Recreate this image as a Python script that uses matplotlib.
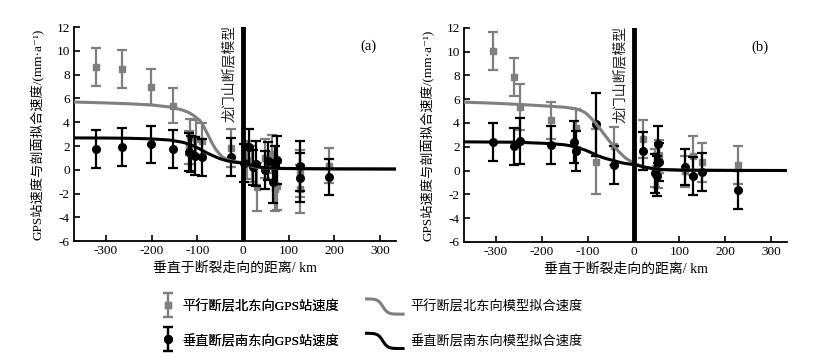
import matplotlib
matplotlib.use('Agg')
import matplotlib.pyplot as plt
import numpy as np
from matplotlib.legend_handler import HandlerBase, HandlerErrorbar
from matplotlib.lines import Line2D

plt.rcParams['font.family'] = ['Liberation Serif', 'Noto Sans CJK SC', 'DejaVu Serif']
plt.rcParams['axes.unicode_minus'] = False

# ---- panel (a) GPS stations ----
a_gray_x = [-321, -265, -202, -153, -118, -116, -103, -89, -25, 10, 20, 30, 49, 64, 71, 75, 124, 124, 189]
a_gray_y = [8.65, 8.5, 6.95, 5.4, 1.9, 2.75, 2.6, 2.45, 1.8, 0.8, 0.5, -1.45, 0.95, 1.35, -1.6, -1.4, -0.3, -1.6, 0.35]
a_gray_e = [1.6, 1.6, 1.5, 1.5, 1.4, 1.5, 1.6, 1.5, 1.6, 1.6, 1.5, 2.0, 1.6, 1.6, 1.9, 2.0, 2.0, 2.0, 1.45]

a_black_x = [-321, -265, -202, -153, -118, -114, -104, -90, -27, 3, 13, 22, 28, 48, 55, 66, 70, 75, 124, 124, 189]
a_black_y = [1.75, 1.9, 2.15, 1.75, 1.5, 1.35, 1.15, 1.05, 1.1, 0.55, 1.9, 0.2, 0.5, 0.0, 0.7, -1.0, 0.4, 0.8, 0.3, -0.65, -0.6]
a_black_e = [1.6, 1.6, 1.55, 1.6, 1.6, 1.5, 1.6, 1.55, 1.6, 1.6, 1.55, 1.5, 1.9, 1.6, 1.6, 1.8, 1.6, 2.0, 2.1, 2.1, 1.5]

# ---- panel (a) model fits ----
a_fitg_x = [-370, -300, -250, -200, -160, -135, -121, -110, -103, -95, -89, -84, -78, -72, -67, -60,
            -52, -44, -34, -25, -12, 0, 10, 20, 30, 40, 60, 90, 150, 200, 335]
a_fitg_y = [5.7, 5.62, 5.55, 5.45, 5.28, 5.05, 4.86, 4.62, 4.42, 4.15, 3.88, 3.5, 3.04, 2.6, 2.2, 1.75,
            1.36, 1.05, 0.86, 0.75, 0.66, 0.58, 0.43, 0.3, 0.22, 0.17, 0.12, 0.1, 0.08, 0.07, 0.05]
a_fitk_x = [-370, -300, -250, -200, -160, -130, -110, -92, -78, -63, -50, -34, -20, -10, 0,
            12, 24, 38, 53, 80, 126, 200, 335]
a_fitk_y = [2.68, 2.67, 2.65, 2.6, 2.5, 2.3, 2.05, 1.7, 1.4, 1.14, 0.93, 0.75, 0.65, 0.6, 0.57,
            0.45, 0.33, 0.22, 0.16, 0.12, 0.1, 0.08, 0.07]

# ---- panel (b) GPS stations ----
b_gray_x = [-307, -261, -247, -181, -125, -81, -42, 20, 47, 54, 56, 113, 129, 150, 228]
b_gray_y = [10.05, 7.88, 5.35, 4.23, 3.6, 0.75, 2.05, 2.66, 0.22, 0.0, 1.2, -0.05, 1.26, 0.7, 0.45]
b_gray_e = [1.6, 1.6, 1.95, 1.55, 1.6, 2.7, 1.6, 1.6, 1.6, 1.5, 1.4, 1.3, 1.6, 1.65, 1.6]

b_black_x = [-307, -261, -247, -181, -129, -125, -81, -42, 20, 46, 52, 54, 56, 113, 129, 150, 228]
b_black_y = [2.38, 2.05, 2.5, 2.13, 2.41, 1.63, 3.87, 0.5, 1.65, -0.25, -0.48, 2.2, 0.7, 0.28, -0.48, -0.1, -1.65]
b_black_e = [1.6, 1.55, 1.95, 1.6, 1.75, 1.7, 2.65, 1.6, 1.6, 1.6, 1.7, 1.55, 1.6, 1.5, 1.6, 1.6, 1.6]

# ---- panel (b) model fits ----
b_fitg_x = [-370, -300, -247, -184, -150, -127, -115, -105, -95, -83, -72, -61, -50, -40, -30,
            -18, -8, 0, 10, 18, 30, 47, 70, 105, 200, 335]
b_fitg_y = [5.75, 5.65, 5.55, 5.41, 5.32, 5.2, 5.05, 4.85, 4.5, 4.0, 3.45, 2.89, 2.35, 1.91, 1.5,
            1.07, 0.82, 0.64, 0.48, 0.36, 0.24, 0.14, 0.07, 0.03, 0.01, 0.0]
b_fitk_x = [-370, -300, -257, -184, -150, -134, -120, -105, -90, -76, -60, -47, -35, -25, -12,
            0, 12, 25, 40, 61, 105, 200, 335]
b_fitk_y = [2.41, 2.39, 2.38, 2.27, 2.16, 2.05, 1.9, 1.71, 1.46, 1.2, 1.0, 0.87, 0.74, 0.64, 0.56,
            0.5, 0.4, 0.28, 0.17, 0.08, 0.03, 0.01, 0.0]

GRAY = '#7f7f7f'
YLABEL = 'GPS站速度与剖面拟合速度/(mm·a⁻¹)'
XLABEL = '垂直于断裂走向的距离/ km'
FAULT = '龙门山断层模型'
LEG_POINTS = ['平行断层北东向GPS站速度', '垂直断层南东向GPS站速度']
LEG_LINES = ['平行断层北东向模型拟合速度', '垂直断层南东向模型拟合速度']


class SCurveHandler(HandlerBase):
    def create_artists(self, legend, orig_handle, xdescent, ydescent,
                       width, height, fontsize, trans):
        t = np.linspace(0, 1, 40)
        x = -xdescent + width * t
        y = -ydescent + height * (0.5 - 0.5 * np.tanh((t - 0.45) * 8))
        ln = Line2D(x, y, color=orig_handle.get_color(),
                    lw=orig_handle.get_linewidth(), solid_capstyle='butt')
        ln.set_transform(trans)
        return [ln]


def draw_panel(ax, gx, gy, ge, kx, ky, ke, fgx, fgy, fkx, fky, tag):
    eg = ax.errorbar(gx, gy, yerr=ge, fmt='s', color=GRAY, ms=5, elinewidth=1.6,
                     capsize=3.5, capthick=1.6, zorder=2)
    ek = ax.errorbar(kx, ky, yerr=ke, fmt='o', color='black', ms=5.5, elinewidth=1.6,
                     capsize=3.5, capthick=1.6, zorder=3)
    lg, = ax.plot(fgx, fgy, color=GRAY, lw=2.2, zorder=4)
    lk, = ax.plot(fkx, fky, color='black', lw=2.2, zorder=4)
    ax.axvline(0, color='black', lw=3.5, zorder=5)
    ax.text(-30, 12.2, FAULT, rotation=90, ha='center', va='top', fontsize=10,
            color='#222222')
    ax.text(275, 10.4, tag, ha='center', va='center', fontsize=10.5)
    ax.set_xlim(-370, 335)
    ax.set_ylim(-6, 12)
    ax.set_xticks(range(-300, 301, 100))
    ax.set_yticks(range(-6, 13, 2))
    ax.tick_params(direction='in', length=4, width=1.2, labelsize=9.5, pad=3)
    for s in ['top', 'right']:
        ax.spines[s].set_visible(False)
    for s in ['left', 'bottom']:
        ax.spines[s].set_linewidth(1.3)
    ax.set_xlabel(XLABEL, fontsize=10, labelpad=3)
    ax.set_ylabel(YLABEL, fontsize=9.5)
    ax.yaxis.set_label_coords(-0.09, 0.5)
    return eg, ek, lg, lk


fig = plt.figure(figsize=(8.36, 3.61), dpi=100)
ax_a = fig.add_axes([0.0885, 0.332, 0.385, 0.593])
ax_b = fig.add_axes([0.555, 0.330, 0.3865, 0.593])

eg, ek, lg, lk = draw_panel(ax_a, a_gray_x, a_gray_y, a_gray_e, a_black_x, a_black_y, a_black_e,
                            a_fitg_x, a_fitg_y, a_fitk_x, a_fitk_y, '(a)')
draw_panel(ax_b, b_gray_x, b_gray_y, b_gray_e, b_black_x, b_black_y, b_black_e,
           b_fitg_x, b_fitg_y, b_fitk_x, b_fitk_y, '(b)')

leg_kw = dict(loc='upper left', frameon=False, fontsize=9.5, handleheight=1.4,
              labelspacing=1.45, handletextpad=0.4, borderpad=0, borderaxespad=0)
leg1 = fig.legend([eg, ek], LEG_POINTS, bbox_to_anchor=(159 / 836, 0.172),
                  handlelength=1.4,
                  handler_map={type(eg): HandlerErrorbar(xerr_size=0.5, yerr_size=0.9,
                                                         numpoints=1)},
                  **leg_kw)
fig.add_artist(leg1)
fig.legend([lg, lk], LEG_LINES, bbox_to_anchor=(365 / 836, 0.172),
           handlelength=3.0, handler_map={Line2D: SCurveHandler()}, **leg_kw)

fig.savefig('out.png', dpi=100)
